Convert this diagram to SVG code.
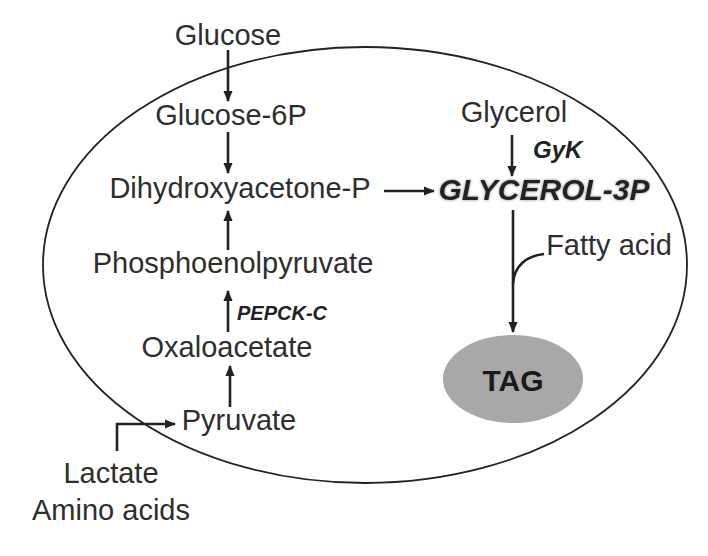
<svg xmlns="http://www.w3.org/2000/svg" width="708" height="556" viewBox="0 0 708 556">
<style>
.t{font-family:"Liberation Sans",Arial,sans-serif;font-size:29px;fill:#2e2e2e;text-anchor:middle}
.e{font-family:"Liberation Sans",Arial,sans-serif;font-weight:bold;font-style:italic;fill:#222}
.c{stroke:#222;stroke-width:2.6;fill:none}
</style>
<defs>
<marker id="ah" viewBox="0 0 12 10" refX="11" refY="5" markerWidth="4.4" markerHeight="3.7" orient="auto" markerUnits="strokeWidth">
<path d="M0,0 L12,5 L0,10 z" fill="#222"/>
</marker>
<filter id="glow" x="-10%" y="-30%" width="120%" height="160%">
<feGaussianBlur in="SourceAlpha" stdDeviation="1.6" result="b"/>
<feFlood flood-color="#888" result="f"/>
<feComposite in="f" in2="b" operator="in" result="s"/>
<feMerge><feMergeNode in="s"/><feMergeNode in="SourceGraphic"/></feMerge>
</filter>
</defs>
<rect width="708" height="556" fill="#fff"/>
<g id="cell"><ellipse cx="365" cy="265" rx="322" ry="218" fill="none" stroke="#222" stroke-width="1.8"/></g>
<g id="connectors">
<line class="c" x1="228" y1="50" x2="228" y2="101" marker-end="url(#ah)"/>
<line class="c" x1="228" y1="132" x2="228" y2="173" marker-end="url(#ah)"/>
<line class="c" x1="228" y1="250" x2="228" y2="211" marker-end="url(#ah)"/>
<line class="c" x1="228" y1="332" x2="228" y2="291" marker-end="url(#ah)"/>
<line class="c" x1="230" y1="407" x2="230" y2="366" marker-end="url(#ah)"/>
<polyline class="c" points="117,451 117,424 175,424" marker-end="url(#ah)"/>
<line class="c" x1="384" y1="191" x2="434" y2="191" marker-end="url(#ah)"/>
<line class="c" x1="512" y1="135" x2="512" y2="176" marker-end="url(#ah)"/>
<line class="c" x1="513" y1="210" x2="513" y2="332" marker-end="url(#ah)"/>
<path class="c" d="M544,254 C526,256 514,266 513,284"/>
</g>
<g id="glucose"><text class="t" x="228" y="45">Glucose</text></g>
<g id="glucose6p"><text class="t" x="231" y="125">Glucose-6P</text></g>
<g id="dhap"><text class="t" x="240" y="198">Dihydroxyacetone-P</text></g>
<g id="pep"><text class="t" x="233" y="273">Phosphoenolpyruvate</text></g>
<g id="pepck"><text class="e" x="237" y="320" font-size="20">PEPCK-C</text></g>
<g id="oxaloacetate"><text class="t" x="227" y="357">Oxaloacetate</text></g>
<g id="pyruvate"><text class="t" x="239" y="430">Pyruvate</text></g>
<g id="lactate"><text class="t" x="111" y="483">Lactate</text><text class="t" x="111" y="520">Amino acids</text></g>
<g id="glycerol"><text class="t" x="514" y="122">Glycerol</text></g>
<g id="gyk"><text class="e" x="533" y="158" font-size="24">GyK</text></g>
<g id="g3p"><text class="e" x="544" y="200" font-size="30" text-anchor="middle" filter="url(#glow)">GLYCEROL-3P</text></g>
<g id="fattyacid"><text class="t" x="609" y="255">Fatty acid</text></g>
<g id="tag"><ellipse cx="513" cy="379" rx="70" ry="44" fill="#a8a8a8"/><text x="513" y="391" font-family="Liberation Sans,Arial,sans-serif" font-weight="bold" font-size="30" fill="#1a1a1a" text-anchor="middle">TAG</text></g>
</svg>
